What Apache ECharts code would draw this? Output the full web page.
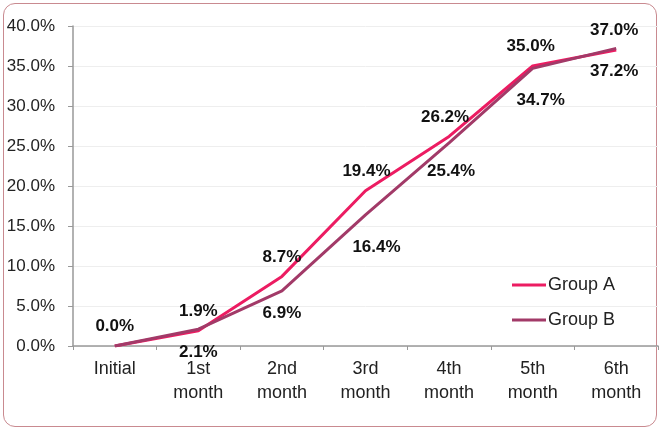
<!DOCTYPE html>
<html>
<head>
<meta charset="utf-8">
<script src="https://cdn.jsdelivr.net/npm/echarts@6/dist/echarts.min.js"></script>
<style>
  html, body { margin: 0; padding: 0; background: #fff; }
  #frame {
    position: absolute; left: 3px; top: 3px; width: 652px; height: 422px;
    border: 1px solid #c98a90; border-radius: 12px;
  }
  #chart { position: absolute; left: 0; top: 0; width: 660px; height: 431px; }
</style>
</head>
<body>
<div id="frame"></div>
<div id="chart"></div>
<script>
// months since start
const categories = ['Initial', '1st\nmonth', '2nd\nmonth', '3rd\nmonth', '4th\nmonth', '5th\nmonth', '6th\nmonth']
const groupA = [0.0, 1.9, 8.7, 19.4, 26.2, 35.0, 37.0]
const groupB = [0.0, 2.1, 6.9, 16.4, 25.4, 34.7, 37.2]
const yTicks = [0, 5, 10, 15, 20, 25, 30, 35, 40]

// label nudges (x, y), layout only
const offsetsA = [[0, 0], [0, 0], [0, 0], [1, 0], [-4, 0], [-2, 0], [-2, 0]]
const offsetsB = [[0, 0], [0, 1], [0, 0], [11, 10], [2, 6], [8, 9], [-2, 0]]

const myChart = echarts.init(document.getElementById('chart'))

const font = 'Liberation Sans, Arial, sans-serif'
const labelFont = {
  color: '#111',
  fontSize: 17,
  fontWeight: 'bold',
  fontFamily: font
}

const option = {
  animation: false,
  grid: { left: 73, right: 2, top: 26, bottom: 85 },
  legend: {
    orient: 'vertical',
    left: 507,
    top: 271,
    itemGap: 17,
    itemWidth: 34,
    itemHeight: 3,
    icon: 'rect',
    textStyle: { color: '#222', fontSize: 18, fontFamily: font, padding: [0, 0, 0, -3] },
    data: ['Group A', 'Group B']
  },
  xAxis: {
    type: 'category',
    data: categories,
    boundaryGap: true,
    axisLine: { lineStyle: { color: '#999', width: 1.5 } },
    axisTick: { show: true, length: 4, lineStyle: { color: '#999' } },
    axisLabel: {
      color: '#222',
      fontSize: 18,
      lineHeight: 24,
      margin: 11,
      fontFamily: font,
      interval: 0
    }
  },
  yAxis: {
    type: 'value',
    min: 0,
    max: 40,
    interval: 5,
    axisLine: { show: true, lineStyle: { color: '#999', width: 1.5 } },
    axisTick: { show: true, length: 5, lineStyle: { color: '#999' } },
    splitLine: { lineStyle: { color: '#eeeeee' } },
    axisLabel: {
      color: '#222',
      fontSize: 17,
      margin: 18,
      fontFamily: font,
      formatter: v => (yTicks.includes(v) ? v.toFixed(1) + '%' : '')
    }
  },
  series: [
    {
      name: 'Group B',
      type: 'line',
      data: groupB.map((v, i) => ({
        value: v,
        label: i === 0 ? { show: false } : { offset: offsetsB[i] }
      })),
      symbol: 'circle',
      symbolSize: 0,
      showSymbol: true,
      lineStyle: { color: '#a23a68', width: 3 },
      itemStyle: { color: '#a23a68' },
      z: 3,
      label: {
        show: true,
        position: 'bottom',
        distance: 14,
        formatter: p => p.value.toFixed(1) + '%',
        ...labelFont
      }
    },
    {
      name: 'Group A',
      type: 'line',
      data: groupA.map((v, i) => ({ value: v, label: { offset: offsetsA[i] } })),
      symbol: 'circle',
      symbolSize: 0,
      showSymbol: true,
      lineStyle: { color: '#ec1c62', width: 3 },
      itemStyle: { color: '#ec1c62' },
      z: 2,
      label: {
        show: true,
        position: 'top',
        distance: 11,
        formatter: p => p.value.toFixed(1) + '%',
        ...labelFont
      }
    }
  ]
}

myChart.setOption(option)
</script>
</body>
</html>
